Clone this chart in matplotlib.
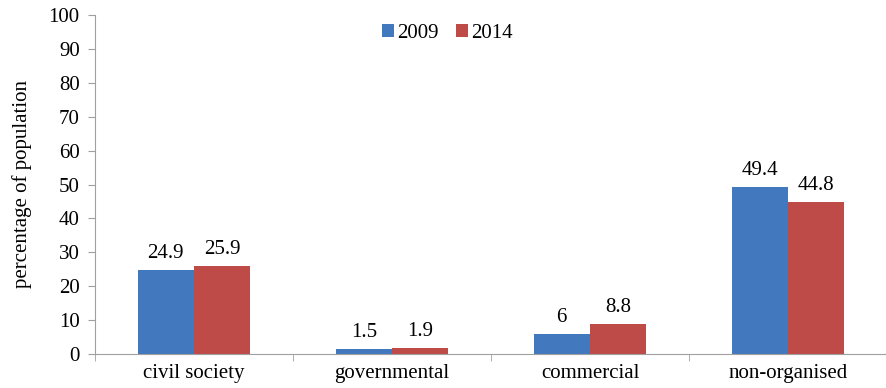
import numpy as np
import matplotlib.pyplot as plt

plt.rcParams['font.family'] = ['Liberation Serif', 'DejaVu Serif']

categories = ['civil society', 'governmental', 'commercial', 'non-organised']
v2009 = [24.9, 1.5, 6, 49.4]
v2014 = [25.9, 1.9, 8.8, 44.8]

fig = plt.figure(figsize=(8.87, 3.88), dpi=100)
ax = fig.add_axes([95 / 887, 34 / 388, 792 / 887, 339 / 388])

x = np.arange(len(categories))
w = 0.285
b1 = ax.bar(x - w / 2, v2009, w, color='#4178BE', label='2009')
b2 = ax.bar(x + w / 2, v2014, w, color='#BE4B48', label='2014')

for bars, vals in ((b1, v2009), (b2, v2014)):
    for b, v in zip(bars, vals):
        ax.text(b.get_x() + b.get_width() / 2, v + 2, f'{v:g}',
                ha='center', va='bottom', fontsize=15)

ax.set_xlim(-0.5, len(categories) - 0.5)
ax.set_ylim(0, 100)
ax.set_yticks(range(0, 101, 10))
ax.set_xticks(x)
ax.set_xticklabels(categories, fontsize=15)
ax.set_xticks(np.arange(-0.5, len(categories), 1), minor=True)
ax.tick_params(axis='x', which='major', length=0, pad=7)
ax.tick_params(axis='x', which='minor', length=5, color='#A0A0A0')
ax.tick_params(axis='y', labelsize=15, length=5, color='#A0A0A0', pad=6)
ax.set_ylabel('percentage of population', fontsize=15, labelpad=12)

for s in ('top', 'right'):
    ax.spines[s].set_visible(False)
for s in ('left', 'bottom'):
    ax.spines[s].set_color('#A0A0A0')

ax.legend(loc='upper center', bbox_to_anchor=(0.445, 1.03), ncol=2, frameon=False,
          fontsize=15, handlelength=0.6, handleheight=0.6, handletextpad=0.15,
          columnspacing=0.8)

fig.savefig('out.png', dpi=100)
